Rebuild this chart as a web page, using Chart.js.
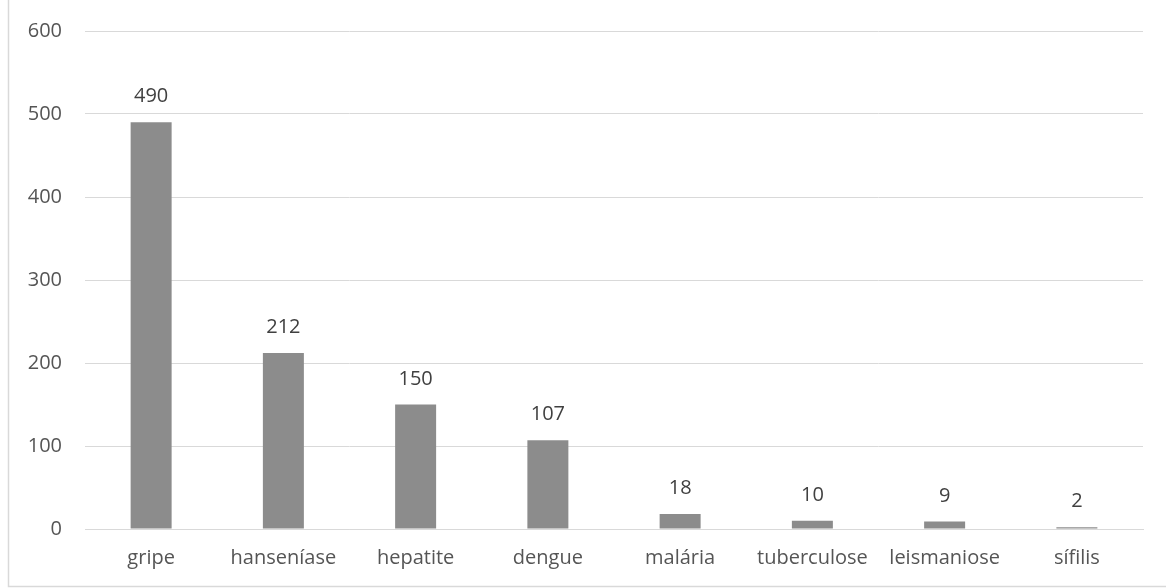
<!DOCTYPE html>
<html>
<head>
<meta charset="utf-8">
<script src="https://cdn.jsdelivr.net/npm/chart.js@4"></script>
<style>
  html, body { margin: 0; padding: 0; background: #ffffff; }
  #wrap { width: 1166px; height: 588px; position: relative; }
</style>
</head>
<body>
<div id="wrap"><canvas id="c" width="1166" height="588"></canvas></div>
<script>
// Casos por doença
const categories = ['gripe', 'hanseníase', 'hepatite', 'dengue', 'malária', 'tuberculose', 'leismaniose', 'sífilis'];
const casos = [490, 212, 150, 107, 18, 10, 9, 2];
const yTicks = [0, 100, 200, 300, 400, 500, 600];

const FONT = '"Open Sans", "Noto Sans", sans-serif';

// value labels above each bar
const valueLabels = {
  id: 'valueLabels',
  afterDatasetsDraw(chart) {
    const ctx = chart.ctx;
    const meta = chart.getDatasetMeta(0);
    ctx.save();
    ctx.font = '20px ' + FONT;
    ctx.fillStyle = '#404040';
    ctx.textAlign = 'center';
    ctx.textBaseline = 'alphabetic';
    meta.data.forEach((bar, i) => {
      ctx.fillText(String(chart.data.datasets[0].data[i]), bar.x, bar.y - 20);
    });
    ctx.restore();
  }
};

// thin outer frame on the left and bottom
const frame = {
  id: 'frame',
  beforeDraw(chart) {
    const ctx = chart.ctx;
    ctx.save();
    ctx.strokeStyle = '#d9d9d9';
    ctx.lineWidth = 1.5;
    ctx.beginPath();
    ctx.moveTo(8.5, 0);
    ctx.lineTo(8.5, 586.5);
    ctx.lineTo(1166, 586.5);
    ctx.stroke();
    ctx.restore();
  }
};

new Chart(document.getElementById('c'), {
  type: 'bar',
  data: {
    labels: categories,
    datasets: [{
      data: casos,
      backgroundColor: '#8c8c8c',
      borderWidth: 0,
      categoryPercentage: 1,
      barPercentage: 0.31
    }]
  },
  options: {
    responsive: false,
    animation: false,
    layout: { autoPadding: false, padding: { top: 31, right: 23, bottom: 0, left: 8 } },
    plugins: { legend: { display: false }, tooltip: { enabled: false } },
    scales: {
      x: {
        grid: { display: false, drawTicks: false },
        border: { display: true, color: '#d9d9d9', width: 1 },
        ticks: { color: '#555555', font: { family: FONT, size: 20 }, padding: 17 },
        afterFit(s) { s.height = 59; }
      },
      y: {
        min: 0,
        max: 600,
        afterBuildTicks(s) { s.ticks = yTicks.map(v => ({ value: v })); },
        grid: { color: '#d9d9d9', lineWidth: 1, drawTicks: false },
        border: { display: false },
        ticks: { color: '#555555', font: { family: FONT, size: 20 }, padding: 23 },
        afterFit(s) { s.width = 77; s.paddingTop = 0; s.paddingBottom = 0; }
      }
    }
  },
  plugins: [frame, valueLabels]
});
</script>
</body>
</html>
